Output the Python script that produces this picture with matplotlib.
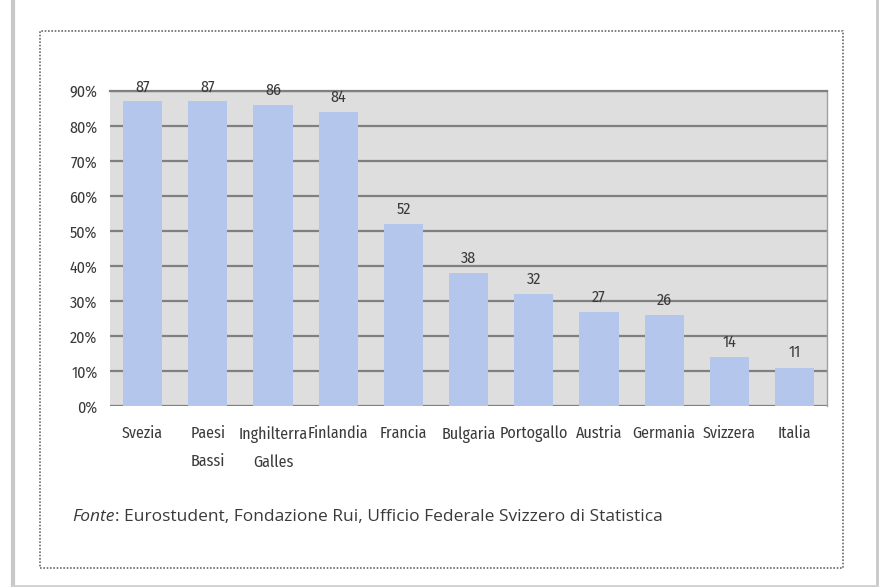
import matplotlib.pyplot as plt
import numpy as np
from matplotlib.lines import Line2D

# share of students per country (percent)
paesi = ['Svezia', 'Paesi\nBassi', 'Inghilterra\nGalles', 'Finlandia', 'Francia',
         'Bulgaria', 'Portogallo', 'Austria', 'Germania', 'Svizzera', 'Italia']
valori = [87, 87, 86, 84, 52, 38, 32, 27, 26, 14, 11]
yticks = [0, 10, 20, 30, 40, 50, 60, 70, 80, 90]
fonte = 'Eurostudent, Fondazione Rui, Ufficio Federale Svizzero di Statistica'

bar_color = '#b4c6ec'
bg_color = '#dedede'
grid_color = '#808080'
text_color = '#3a3a3a'
narrow = ['Fira Sans Condensed', 'DejaVu Sans']
regular = ['Open Sans', 'DejaVu Sans']

fig = plt.figure(figsize=(8.8, 5.87), dpi=100)
ax = fig.add_axes([0.125, 0.308, 0.815, 0.537])

x = np.arange(len(paesi))
ax.set_facecolor(bg_color)
ax.bar(x, valori, width=0.6, color=bar_color, zorder=3)
for xi, v in zip(x, valori):
    ax.text(xi, v + 2.0, str(v), ha='center', va='bottom', fontsize=11.5,
            color=text_color, family=narrow, weight='normal', zorder=4)

ax.set_ylim(0, 90)
ax.set_xlim(-0.5, len(paesi) - 0.5)
ax.set_yticks(yticks)
ax.set_yticklabels([f'{t}%' for t in yticks], family=narrow, weight='normal',
                   fontsize=11.5, color=text_color)
ax.set_xticks(x)
ax.set_xticklabels(paesi, family=narrow, weight='normal', fontsize=11.5,
                   color=text_color, linespacing=1.95)
ax.tick_params(axis='both', length=0)
ax.tick_params(axis='x', pad=14)
ax.tick_params(axis='y', pad=9)
ax.yaxis.grid(True, color=grid_color, linewidth=1.6, zorder=1)
ax.set_axisbelow(True)
for side in ['left', 'bottom']:
    ax.spines[side].set_visible(False)
ax.spines['top'].set_color(grid_color)
ax.spines['top'].set_linewidth(1.6)
ax.spines['right'].set_color('#a0a0a0')
ax.spines['right'].set_linewidth(1.0)

# source line: italic "Fonte" followed by the regular text
ys = 1 - 517 / 587
t1 = fig.text(72 / 880, ys, 'Fonte', style='italic', fontsize=12.5,
              color=text_color, family=regular, va='center')
renderer = fig.canvas.get_renderer()
bb = t1.get_window_extent(renderer=renderer)
x_next = fig.transFigure.inverted().transform((bb.x1 + 1, 0))[0]
fig.text(x_next, ys, ': ' + fonte, fontsize=12.5,
         color=text_color, family=regular, va='center')

# dotted box around the figure
x0, x1 = 40 / 880, 843 / 880
y0, y1 = 1 - 568 / 587, 1 - 31 / 587
fig.add_artist(Line2D([x0, x1, x1, x0, x0], [y0, y0, y1, y1, y0],
                      transform=fig.transFigure, color='#6a6a6a',
                      linestyle=(0, (1, 1)), linewidth=1.2))
# page edges
fig.add_artist(Line2D([13 / 880, 13 / 880], [0, 1], transform=fig.transFigure,
                      color='#c8c8c8', linewidth=3))
fig.add_artist(Line2D([877 / 880, 877 / 880], [0, 1], transform=fig.transFigure,
                      color='#c8c8c8', linewidth=2))
fig.add_artist(Line2D([13 / 880, 877 / 880], [1 - 586 / 587] * 2, transform=fig.transFigure,
                      color='#d0d0d0', linewidth=2))

fig.savefig('out.png', dpi=100)
